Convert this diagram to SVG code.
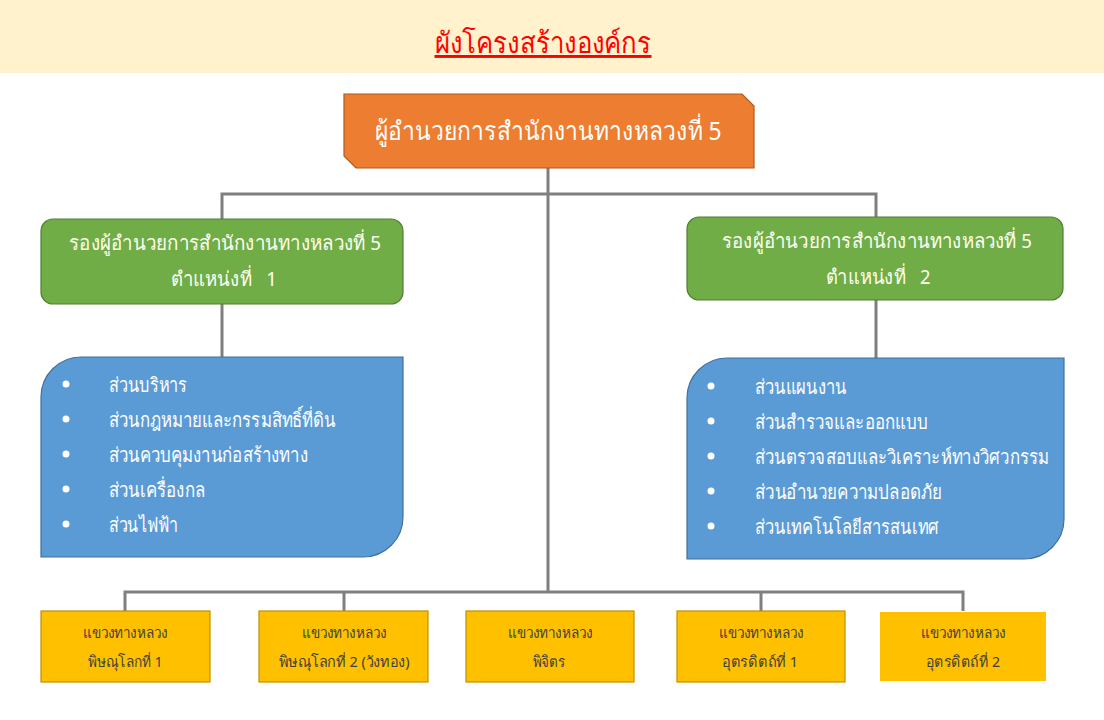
<svg xmlns="http://www.w3.org/2000/svg" width="1104" height="720" viewBox="0 0 1104 720">
<style>
text{font-family:Tahoma,"Noto Sans","DejaVu Sans",sans-serif}
.conn{stroke:#7F7F7F;stroke-width:3;fill:none}
.green{fill:#70AD47;stroke:#507E32;stroke-width:1.2}
.blue{fill:#5B9BD5;stroke:#41719C;stroke-width:1.2}
.yel{fill:#FFC000;stroke:#BF9000;stroke-width:1.2}
.gt{fill:#FFFFF0;font-size:20px;text-anchor:middle}
.bt{fill:#FFFFFF;font-size:20px}
.bul{fill:#FFFFFF}
.yt{fill:#404040;font-size:15px;text-anchor:middle}
</style>
<rect x="0" y="0" width="1104" height="720" fill="#FFFFFF"/>
<rect x="0" y="0" width="1104" height="73" fill="#FFF2CC"/>
<text x="543" y="53" font-size="29" fill="#FF0000" text-anchor="middle" text-decoration="underline" textLength="217" lengthAdjust="spacingAndGlyphs">ผังโครงสร้างองค์กร</text>

<g id="connectors">
<path class="conn" d="M548 168V592"/>
<path class="conn" d="M222 219V194H876V217"/>
<path class="conn" d="M222 304V357"/>
<path class="conn" d="M876 300V358"/>
<path class="conn" d="M125 611V592H963V611"/>
<path class="conn" d="M344 592V611"/>
<path class="conn" d="M761 592V611"/>
</g>

<g id="director">
<path d="M344 94H742L754 106V168H356L344 156Z" fill="#ED7D31" stroke="#AE5A21" stroke-width="1.2"/>
<text x="548" y="140" font-size="26" fill="#FFFFFF" text-anchor="middle" textLength="347" lengthAdjust="spacingAndGlyphs">ผู้อำนวยการสำนักงานทางหลวงที่ 5</text>
</g>

<g id="deputy1">
<rect class="green" x="41" y="219" width="362" height="85" rx="12"/>
<text class="gt" x="225" y="250" textLength="312" lengthAdjust="spacingAndGlyphs">รองผู้อำนวยการสำนักงานทางหลวงที่ 5</text>
<text class="gt" x="224" y="286" xml:space="preserve" textLength="106" lengthAdjust="spacingAndGlyphs">ตำแหน่งที่   1</text>
</g>

<g id="deputy2">
<rect class="green" x="687" y="217" width="376" height="83" rx="12"/>
<text class="gt" x="877" y="248" textLength="310" lengthAdjust="spacingAndGlyphs">รองผู้อำนวยการสำนักงานทางหลวงที่ 5</text>
<text class="gt" x="878" y="284" xml:space="preserve" textLength="105" lengthAdjust="spacingAndGlyphs">ตำแหน่งที่   2</text>
</g>

<g id="units1">
<path class="blue" d="M81 357H403V517A40 40 0 0 1 363 557H41V397A40 40 0 0 1 81 357Z"/>
<circle class="bul" cx="66" cy="384" r="3.5"/>
<circle class="bul" cx="66" cy="419" r="3.5"/>
<circle class="bul" cx="66" cy="454" r="3.5"/>
<circle class="bul" cx="66" cy="489" r="3.5"/>
<circle class="bul" cx="66" cy="524" r="3.5"/>
<text class="bt" x="109" y="392" textLength="78" lengthAdjust="spacingAndGlyphs">ส่วนบริหาร</text>
<text class="bt" x="109" y="427" textLength="227" lengthAdjust="spacingAndGlyphs">ส่วนกฎหมายและกรรมสิทธิ์ที่ดิน</text>
<text class="bt" x="109" y="462" textLength="199" lengthAdjust="spacingAndGlyphs">ส่วนควบคุมงานก่อสร้างทาง</text>
<text class="bt" x="109" y="497" textLength="96" lengthAdjust="spacingAndGlyphs">ส่วนเครื่องกล</text>
<text class="bt" x="109" y="532" textLength="69" lengthAdjust="spacingAndGlyphs">ส่วนไฟฟ้า</text>
</g>

<g id="units2">
<path class="blue" d="M727 358H1064V519A40 40 0 0 1 1024 559H687V398A40 40 0 0 1 727 358Z"/>
<circle class="bul" cx="711" cy="386" r="3.5"/>
<circle class="bul" cx="711" cy="421" r="3.5"/>
<circle class="bul" cx="711" cy="456" r="3.5"/>
<circle class="bul" cx="711" cy="491" r="3.5"/>
<circle class="bul" cx="711" cy="526" r="3.5"/>
<text class="bt" x="755" y="394" textLength="92" lengthAdjust="spacingAndGlyphs">ส่วนแผนงาน</text>
<text class="bt" x="755" y="429" textLength="173" lengthAdjust="spacingAndGlyphs">ส่วนสำรวจและออกแบบ</text>
<text class="bt" x="755" y="464" textLength="294" lengthAdjust="spacingAndGlyphs">ส่วนตรวจสอบและวิเคราะห์ทางวิศวกรรม</text>
<text class="bt" x="755" y="499" textLength="187" lengthAdjust="spacingAndGlyphs">ส่วนอำนวยความปลอดภัย</text>
<text class="bt" x="755" y="534" textLength="184" lengthAdjust="spacingAndGlyphs">ส่วนเทคโนโลยีสารสนเทศ</text>
</g>

<g id="district1">
<rect class="yel" x="41" y="611" width="169" height="71"/>
<text class="yt" x="125" y="638" textLength="85" lengthAdjust="spacingAndGlyphs">แขวงทางหลวง</text>
<text class="yt" x="125" y="667" textLength="75" lengthAdjust="spacingAndGlyphs">พิษณุโลกที่ 1</text>
</g>
<g id="district2">
<rect class="yel" x="259" y="611" width="169" height="71"/>
<text class="yt" x="344" y="638" textLength="85" lengthAdjust="spacingAndGlyphs">แขวงทางหลวง</text>
<text class="yt" x="344" y="667" textLength="131" lengthAdjust="spacingAndGlyphs">พิษณุโลกที่ 2 (วังทอง)</text>
</g>
<g id="district3">
<rect class="yel" x="466" y="611" width="168" height="71"/>
<text class="yt" x="550" y="638" textLength="85" lengthAdjust="spacingAndGlyphs">แขวงทางหลวง</text>
<text class="yt" x="549" y="667" textLength="33" lengthAdjust="spacingAndGlyphs">พิจิตร</text>
</g>
<g id="district4">
<rect class="yel" x="677" y="611" width="168" height="71"/>
<text class="yt" x="761" y="638" textLength="85" lengthAdjust="spacingAndGlyphs">แขวงทางหลวง</text>
<text class="yt" x="760" y="667" textLength="76" lengthAdjust="spacingAndGlyphs">อุตรดิตถ์ที่ 1</text>
</g>
<g id="district5">
<rect x="880" y="612" width="166" height="69" fill="#FFC000"/>
<text class="yt" x="963" y="638" textLength="85" lengthAdjust="spacingAndGlyphs">แขวงทางหลวง</text>
<text class="yt" x="963" y="667" textLength="74" lengthAdjust="spacingAndGlyphs">อุตรดิตถ์ที่ 2</text>
</g>
</svg>
